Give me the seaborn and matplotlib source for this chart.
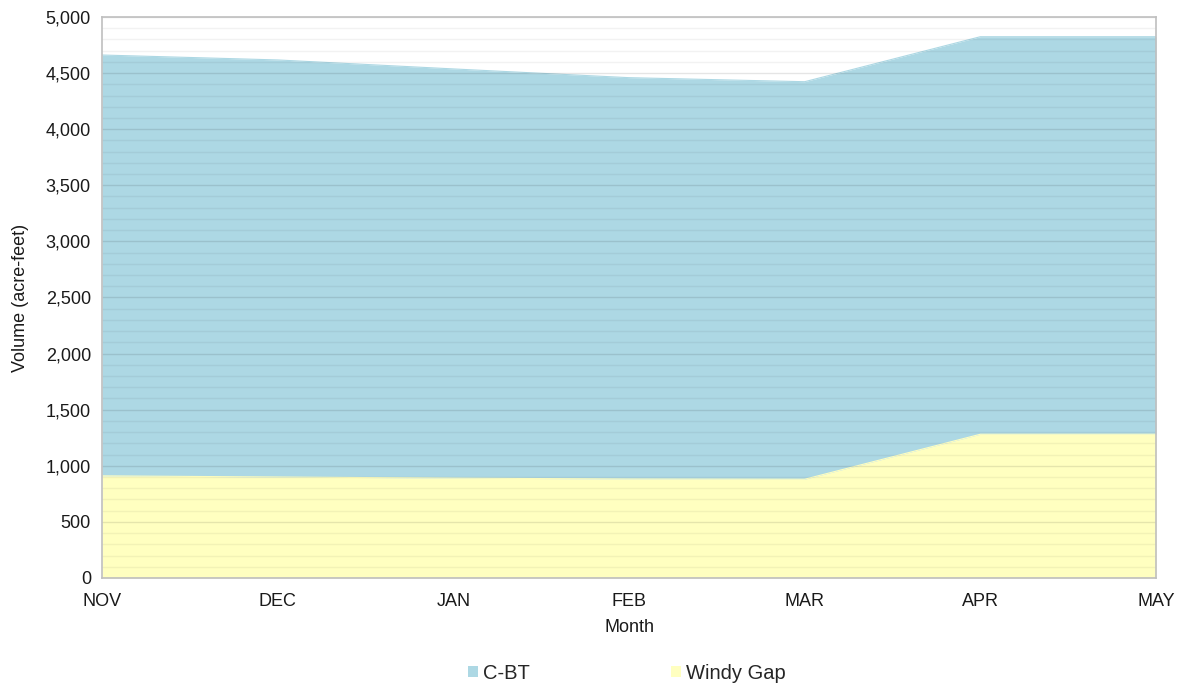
import matplotlib
matplotlib.use("Agg")
import matplotlib.pyplot as plt
from matplotlib.patches import Patch
from matplotlib.ticker import MultipleLocator, FuncFormatter
import seaborn as sns
import pandas as pd

months = ["NOV", "DEC", "JAN", "FEB", "MAR", "APR", "MAY"]
windy_gap = [910, 900, 890, 882, 880, 1281, 1281]
cbt = [3751, 3717, 3647, 3577, 3543, 3543, 3543]

sns.set_theme(style="white")
plt.rcParams["font.family"] = ["Liberation Sans", "DejaVu Sans"]

df = pd.DataFrame({"month": months, "Windy Gap": windy_gap, "C-BT": cbt})
df["pos"] = range(len(months))
df["total"] = df["Windy Gap"] + df["C-BT"]

fig = plt.figure(figsize=(11.82, 6.87), dpi=100)
ax = fig.add_axes([0.0863, 0.1587, 0.8917, 0.8166])

blue = "#ADD8E4"
yellow = "#FFFFC0"

ax.fill_between(df["pos"], 0, df["Windy Gap"], color=yellow, linewidth=0, zorder=1)
ax.fill_between(df["pos"], df["Windy Gap"], df["total"], color=blue, linewidth=0, zorder=1)
sns.lineplot(data=df, x="pos", y="total", ax=ax, color=blue, linewidth=0.8, zorder=2)
sns.lineplot(data=df, x="pos", y="Windy Gap", ax=ax, color=yellow, linewidth=0.8, zorder=2)

ax.set_xlim(0, len(months) - 1)
ax.set_ylim(0, 5000)
ax.set_xticks(df["pos"])
ax.set_xticklabels(months)
ax.yaxis.set_major_locator(MultipleLocator(500))
ax.yaxis.set_minor_locator(MultipleLocator(100))
ax.yaxis.set_major_formatter(FuncFormatter(lambda v, p: f"{int(v):,}"))

# grid drawn over the filled areas, translucent so it tints the fills
ax.set_axisbelow(False)
ax.grid(axis="y", which="major", color="black", alpha=0.10, linewidth=1.0, zorder=3)
ax.grid(axis="y", which="minor", color="black", alpha=0.05, linewidth=1.0, zorder=3)
ax.grid(axis="x", visible=False)

for s in ax.spines.values():
    s.set_color("#BFBFBF")
    s.set_linewidth(1.2)
    s.set_zorder(4)

ax.tick_params(axis="both", which="both", length=0, labelsize=13, colors="#1a1a1a")
ax.tick_params(axis="x", pad=11)
ax.tick_params(axis="y", pad=8)
ax.set_xlabel("Month", fontsize=13, color="#1a1a1a", labelpad=6)
ax.set_ylabel("Volume (acre-feet)", fontsize=13, color="#1a1a1a", labelpad=12)

handles = [Patch(facecolor=blue, edgecolor="none"), Patch(facecolor=yellow, edgecolor="none")]
fig.legend(handles, ["C-BT", "Windy Gap"], loc="center", bbox_to_anchor=(0.530, 0.02),
           ncol=2, frameon=False, fontsize=14.5, handlelength=0.5, handleheight=0.5,
           handletextpad=0.25, columnspacing=7.0)

fig.savefig("out.png", dpi=100)
